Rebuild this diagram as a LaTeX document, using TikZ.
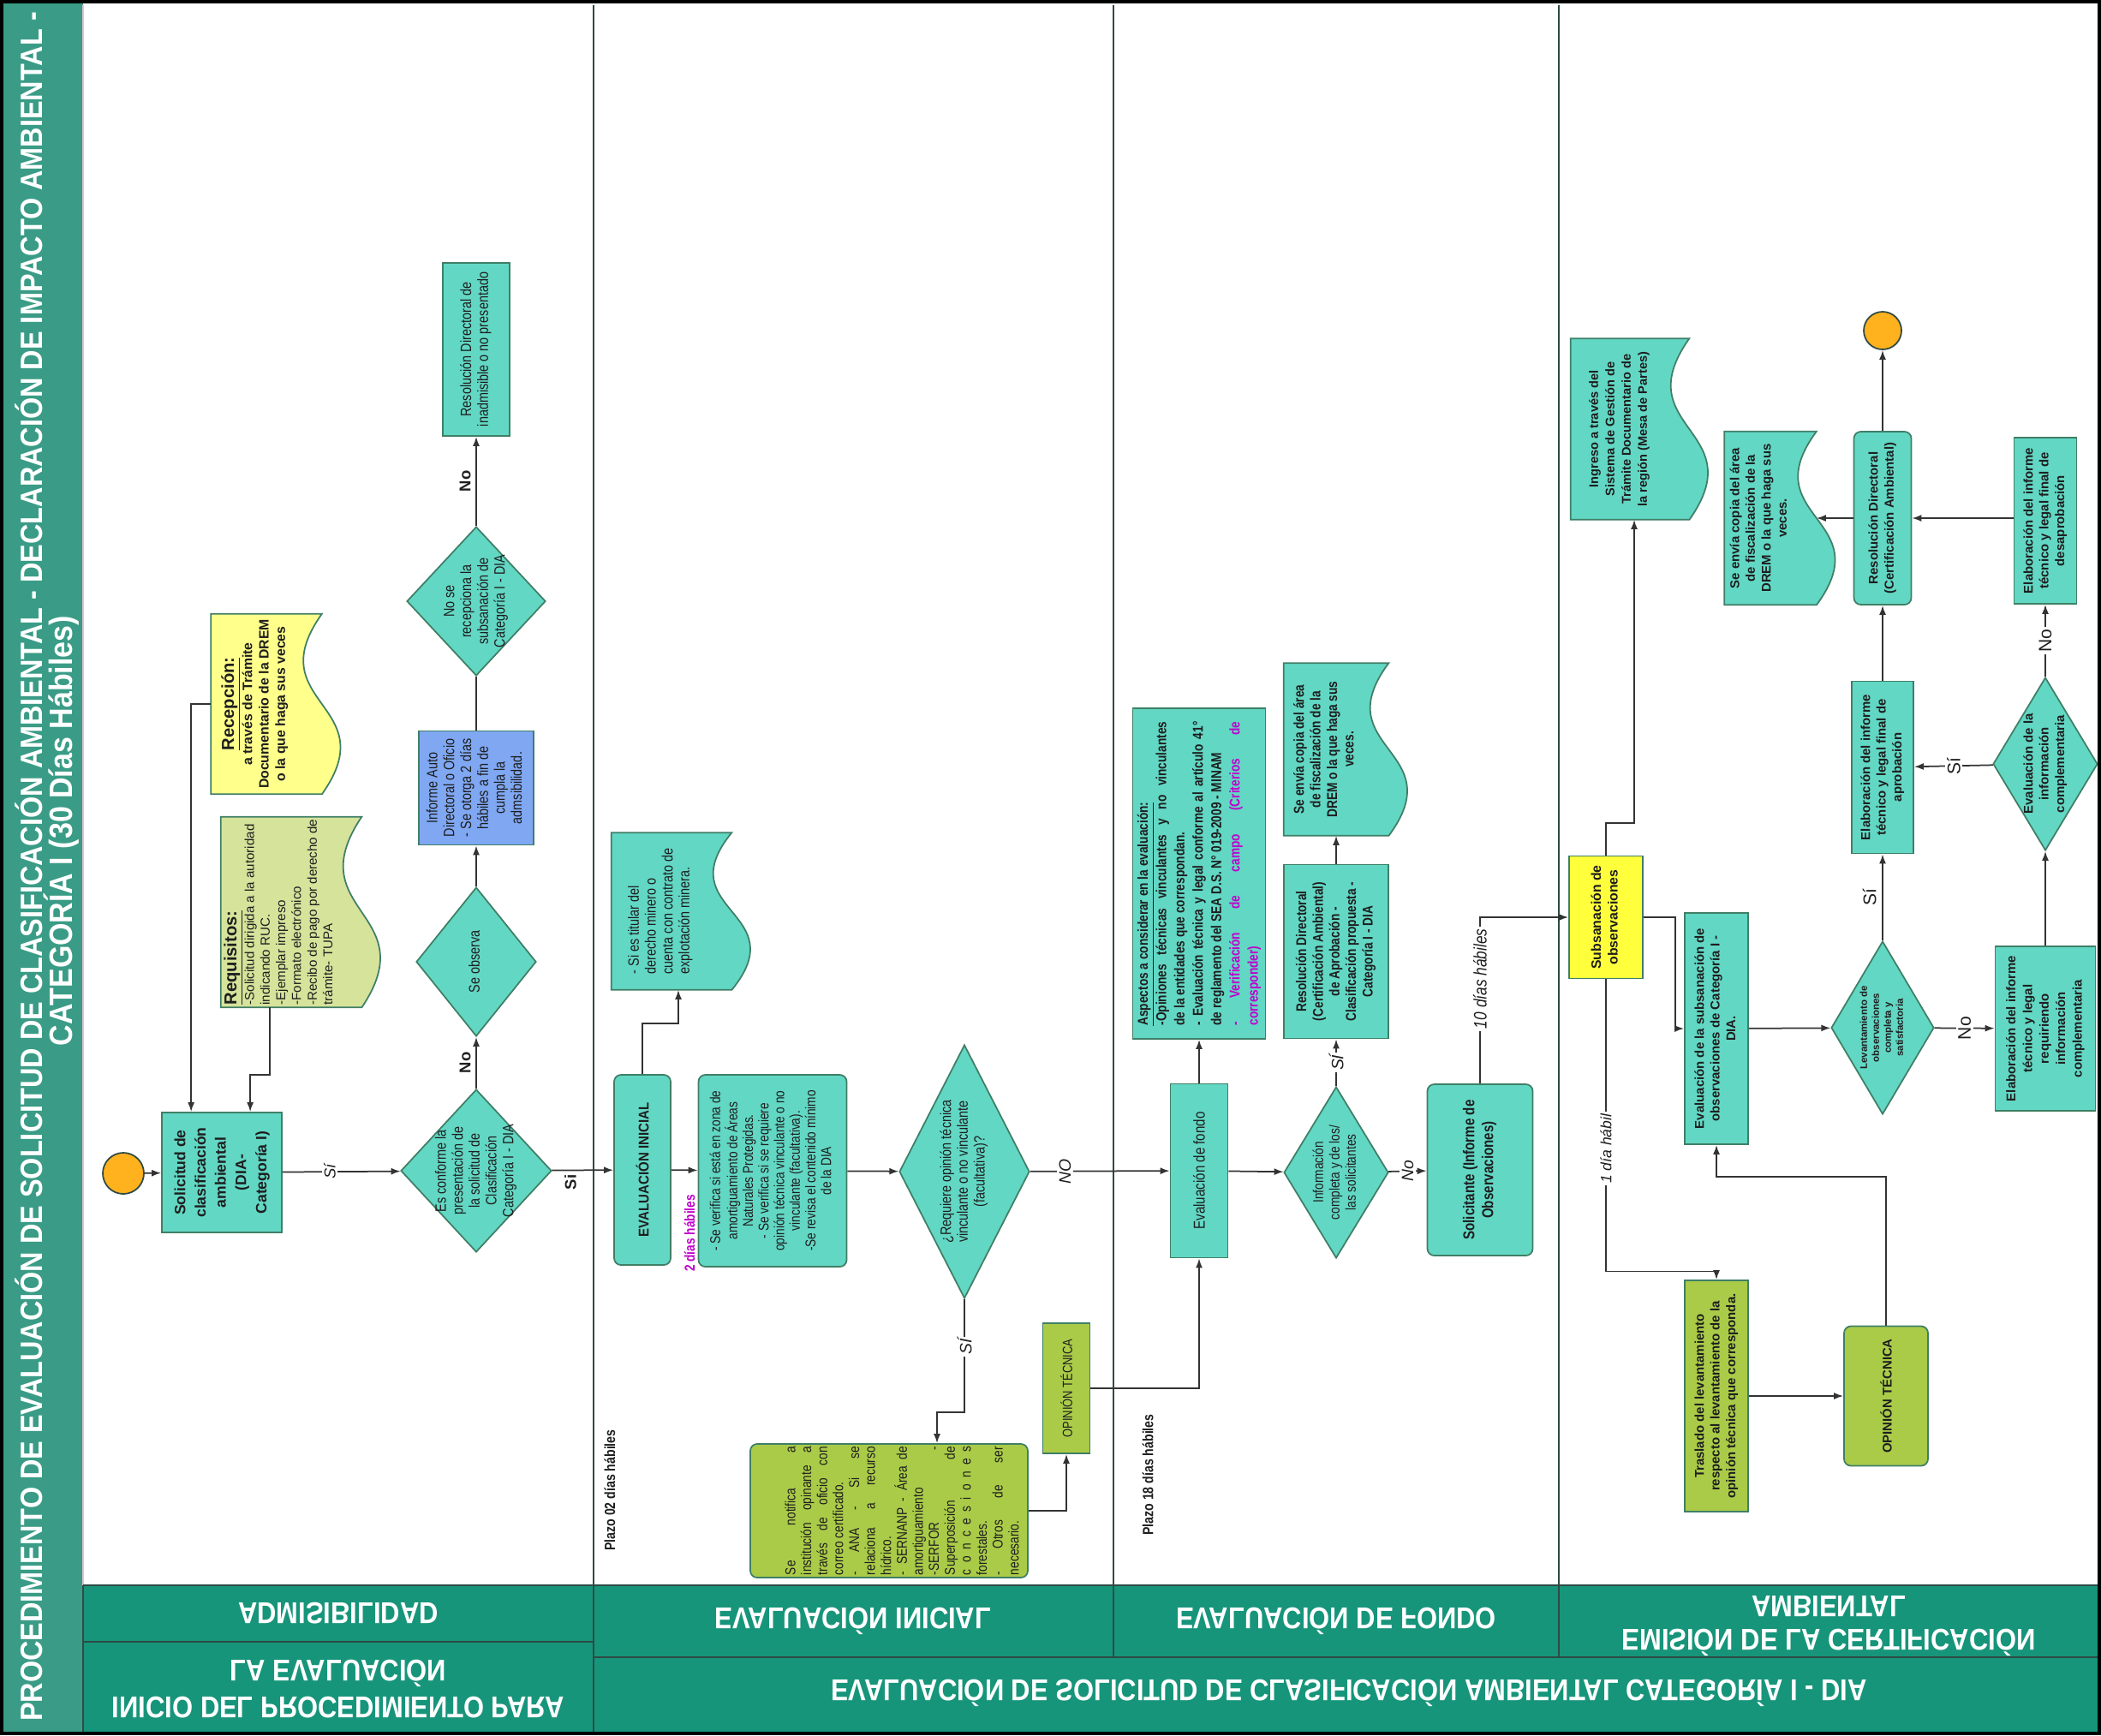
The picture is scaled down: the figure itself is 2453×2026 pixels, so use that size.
\documentclass[tikz,border=0pt]{standalone}
\usepackage{fontspec}
\usepackage{graphicx}
\setmainfont{Liberation Sans}
\newfontfamily\nar[FakeStretch=0.82]{Liberation Sans}
\newfontfamily\tnar[FakeStretch=0.9]{Liberation Sans}
\newfontfamily\hnar[FakeStretch=0.88]{Liberation Sans}
\usetikzlibrary{arrows.meta,shapes.geometric,calc}

\definecolor{teal1}{HTML}{62D7C4}
\definecolor{bord}{HTML}{3F7F66}
\definecolor{ygreen}{HTML}{AACB48}
\definecolor{reqgreen}{HTML}{D5E39B}
\definecolor{recyellow}{HTML}{FFFF8C}
\definecolor{subyellow}{HTML}{FFFF3C}
\definecolor{bluebox}{HTML}{7FA7F2}
\definecolor{orangec}{HTML}{FFB21E}
\definecolor{hdr}{HTML}{17957B}
\definecolor{ttl}{HTML}{3A9C86}
\definecolor{lnk}{HTML}{333333}
\definecolor{txt}{HTML}{1E1E1E}
\definecolor{mag}{HTML}{C000CC}
\definecolor{hline}{HTML}{2E4A44}

\newcommand\fs[2]{\fontsize{#1}{#2}\selectfont}
\newcommand\rot[1]{\rotatebox{90}{#1}}
\newcommand\rtc[2]{\rotatebox{90}{#1\begin{tabular}{@{}c@{}}#2\end{tabular}}}
\newcommand\rtl[2]{\rotatebox{90}{#1\begin{tabular}{@{}l@{}}#2\end{tabular}}}
\newcommand\jl[1]{\makebox[\linewidth][s]{#1}\par}
\newcommand\flip[1]{\scalebox{1}[-1]{#1}}
% regular narrow text used in the first lanes
\newcommand\ft{\nar\fs{10}{11.2}}

% document symbol with a wavy right side: name, centre, width, height, fill, text
\newcommand\docnode[6]{%
  \node[inner sep=0, sz={#3}{#4}] (#1) at (#2) {};
  \filldraw[fill=#5, draw=bord, line width=0.35mm]
    (#1.north west) -- (#1.north east)
    .. controls ([xshift=-15mm]#1.east) and ([xshift=15mm]#1.east) ..
    (#1.south east) -- (#1.south west) -- cycle;
  \node[text=txt] at ([xshift=-2.5mm]#1.center) {#6};}

\begin{document}
\begin{tikzpicture}[x=0.2mm,y=-0.2mm,
  sz/.style 2 args={minimum width=#1*0.2mm, minimum height=#2*0.2mm},
  box/.style={draw=bord, line width=0.35mm, fill=teal1, inner sep=0, text=txt},
  rbox/.style={box, rounded corners=1.6mm},
  dia/.style={diamond, draw=bord, line width=0.35mm, fill=teal1, inner sep=0},
  arr/.style={draw=lnk, line width=0.35mm, -{Latex[length=2.2mm,width=1.6mm]}},
  ln/.style={draw=lnk, line width=0.35mm},
  lbl/.style={fill=white, inner sep=0.5mm, text=txt},
  plain/.style={inner sep=0.5mm, text=txt},
  dot/.style={circle, draw=hline, line width=0.35mm, fill=orangec, inner sep=0}]

\useasboundingbox (0,0) rectangle (2453,2026);
\fill[white] (0,0) rectangle (2453,2026);

% ---------- title strip ----------
\fill[ttl] (0,0) rectangle (97,2026);
\node[text=white] at (34,1012) {\rot{\tnar\bfseries\fs{20.5}{24}PROCEDIMIENTO DE EVALUACIÓN DE SOLICITUD DE CLASIFICACIÓN AMBIENTAL - DECLARACIÓN DE IMPACTO AMBIENTAL -}};
\node[text=white] at (72,970) {\rot{\tnar\bfseries\fs{21.5}{24}CATEGORÍA I (30 Días Hábiles)}};

% ---------- lanes ----------
\draw[draw=gray!60!magenta!40, line width=0.3mm] (97,6) -- (97,1851);
\foreach \xx in {693,1300,1820}
  \draw[hline, line width=0.3mm] (\xx,6) -- (\xx,1851);

% ---------- lane headers ----------
\fill[hdr] (97,1851) rectangle (2453,2026);
\draw[hline, line width=0.5mm] (97,1851) -- (2453,1851);
\draw[hline, line width=0.5mm] (97,1917) -- (693,1917);
\draw[hline, line width=0.5mm] (693,1935) -- (2453,1935);
\draw[hline, line width=0.5mm] (693,1851) -- (693,2026);
\draw[hline, line width=0.4mm] (1300,1851) -- (1300,1935);
\draw[hline, line width=0.4mm] (1820,1851) -- (1820,1935);
\draw[hline, line width=0.5mm] (97,1851) -- (97,2026);
\begin{scope}[every node/.style={text=white, font=\hnar\bfseries\fs{20}{22}}]
\node at (395,1884) {\flip{ADMISIBILIDAD}};
\node at (996,1893) {\flip{EVALUACIÓN INICIAL}};
\node at (1560,1893) {\flip{EVALUACIÓN DE FONDO}};
\node at (2135,1893) {\flip{\begin{tabular}{c}EMISIÓN DE LA CERTIFICACIÓN\\AMBIENTAL\end{tabular}}};
\node at (395,1968) {\flip{\begin{tabular}{c}INICIO DEL PROCEDIMIENTO PARA\\LA EVALUACIÓN\end{tabular}}};
\node at (1575,1977) {\flip{EVALUACIÓN DE SOLICITUD DE CLASIFICACIÓN AMBIENTAL CATEGORÍA I - DIA}};
\end{scope}

% ---------- lane 1: admisibilidad ----------
\node[dot, minimum size=48*0.2mm] (start) at (144,1370) {};
\node[box, sz={140}{140}] (solic) at (259,1369)
  {\rtc{\bfseries\fs{10}{13.5}}{Solicitud de\\clasificación\\ambiental\\(DIA-\\Categoría I)}};
\node[dia, sz={176}{190}] (conf) at (556,1367) {};
\node[text=txt] at (conf) {\rtc{\ft}{Es conforme la\\presentación de\\la solicitud de\\Clasificación\\Categoría I - DIA}};
\node[dia, sz={140}{174}] (obs) at (556,1123) {};
\node[text=txt] at (obs) {\rtc{\ft}{Se observa}};
\node[box, fill=bluebox, sz={134}{133}] (blue) at (556,920)
  {\rtc{\ft}{Informe Auto\\Directoral o Oficio\\- Se otorga 2 días\\hábiles a fin de\\cumpla la\\admsibilidad.}};
\node[dia, sz={162}{174}] (norec) at (556,702) {};
\node[text=txt] at (norec) {\rtc{\ft}{No se\\recepciona la\\subsanación de\\Categoría I - DIA}};
\node[box, sz={78}{202}] (resinad) at (556,408)
  {\rtc{\ft}{Resolución Directoral de\\inadmisible o no presentado}};
\docnode{recep}{311,822}{129}{210}{recyellow}
  {\rtc{\bfseries\fs{9}{11}}{{\fs{11.5}{14}\underline{Recepción:}}\\a través de Trámite\\Documentario de la DREM\\o la que haga sus veces}}
\docnode{req}{340,1065}{164}{222}{reqgreen}
  {\rtl{\fs{8.6}{10.4}}{{\bfseries\fs{11.5}{14}\underline{Requisitos:}}\\-Solicitud dirigida a la autoridad\\indicando RUC.\\-Ejemplar impreso\\-Formato electrónico\\-Recibo de pago por derecho de\\trámite- TUPA}}

\draw[arr] (start) -- (solic);
\draw[arr] (solic) -- node[lbl, pos=0.4] {\rot{\itshape\fs{10.5}{12}Sí}} (conf);
\draw[arr] (conf) -- node[plain, left=0.6mm] {\rot{\bfseries\fs{10.5}{12}No}} (obs);
\draw[arr] (obs) -- (blue);
\draw[ln] (blue) -- (norec);
\draw[arr] (norec) -- node[plain, left=0.6mm] {\rot{\bfseries\fs{10.5}{12}No}} (resinad);
\draw[arr] (recep.west) -| ([xshift=7mm]solic.north west);
\draw[arr] ([xshift=-5mm]req.south) -- ++(0,79) -| ([xshift=20.8mm]solic.north west);

% ---------- lane 2: evaluacion inicial ----------
\node[rbox, sz={66}{222}] (evi) at (750,1366)
  {\rot{\tnar\bfseries\fs{9.5}{11}EVALUACIÓN INICIAL}};
\docnode{titular}{784,1064}{140}{183}{teal1}
  {\rtl{\ft}{- Si es titular del\\derecho minero o\\cuenta con contrato de\\explotación minera.}}
\node[rbox, sz={173}{224}] (box2) at (902,1367)
  {\rtc{\nar\fs{9.5}{10.4}}{- Se verifica si está en zona de\\amortiguamiento de Áreas\\Naturales Protegidas.\\- Se verifica si se requiere\\opinión técnica vinculante o no\\vinculante (facultativa).\\-Se revisa el contenido mínimo\\de la DIA}};
\node[dia, sz={152}{296}] (reqd) at (1126,1368) {};
\node[text=txt] at (reqd) {\rtc{\ft}{¿Requiere opinión técnica\\vinculante o no vinculante\\(facultativa)?}};
\node[rbox, fill=ygreen, sz={324}{156}] (notif) at (1038,1764) {};
\node[text=txt] at ([xshift=3mm]notif.center) {\rot{\begin{minipage}{30mm}\nar\fs{9.5}{10.6}%
\jl{Se notifica a}\jl{institución opinante a}\jl{través de oficio con}correo certificado.\par
\jl{- ANA - Si se}\jl{relaciona a recurso}hídrico.\par\jl{- SERNANP - Área de}amortiguamiento\par
\jl{-SERFOR -}\jl{Superposición de}\jl{c o n c e s i o n e s}forestales.\par
\jl{- Otros de ser}necesario.\par\end{minipage}}};
\node[box, fill=ygreen, sz={55}{152}] (op1) at (1245,1621)
  {\rot{\nar\fs{9}{10}OPINIÓN TÉCNICA}};
\node[text=mag] at (805,1440) {\rot{\nar\bfseries\fs{9.5}{11}2 días hábiles}};
\node[text=txt] at (712,1740) {\rot{\nar\bfseries\fs{9.8}{11}Plazo 02 días hábiles}};

\draw[arr] (conf) -- node[plain, pos=0.3, below=0.4mm] {\rot{\bfseries\fs{10.5}{12}Si}} (evi);
\draw[arr] (evi.north) -- ++(0,-59) -| ([xshift=1.6mm]titular.south);
\draw[arr] (evi) -- (box2);
\draw[arr] (box2) -- (reqd);
\draw[arr] (reqd.south) -- node[lbl, pos=0.42] {\rot{\itshape\fs{11}{12}SÍ}} ++(0,132) -| ([xshift=11.2mm]notif.north);
\draw[arr] (notif.east) -| (op1.south);

% ---------- lane 3: evaluacion de fondo ----------
\node[box, sz={67}{203}] (fondo) at (1400,1367)
  {\rot{\nar\fs{10.5}{12}Evaluación de fondo}};
\node[box, sz={155}{386}] (asp) at (1400,1020)
  {\rot{\begin{minipage}{71mm}\nar\bfseries\fs{9.5}{12.2}%
\underline{Aspectos a considerar en la evaluación:}\par
\jl{-Opiniones técnicas vinculantes y no vinculantes}de la entidades que correspondan.\par
\jl{- Evaluación técnica y legal conforme al artículo 41°}de reglamento del SEA D.S. N° 019-2009 - MINAM\par
{\color{mag}\jl{- Verificación de campo (Criterios de}corresponder)\par}\end{minipage}}};
\node[dia, sz={122}{200}] (infd) at (1560,1369) {};
\node[text=txt] at (infd) {\rtc{\nar\fs{9.5}{10.8}}{Información\\completa y de los/\\las solicitantes}};
\node[box, sz={122}{203}] (res2) at (1560,1111)
  {\rtc{\nar\bfseries\fs{9.5}{11}}{Resolución Directoral\\(Certificación Ambiental)\\de Aprobación -\\Clasificación propuesta -\\Categoría I - DIA}};
\docnode{copy1}{1560,875}{122}{201}{teal1}
  {\rtc{\nar\bfseries\fs{9.5}{11}}{Se envía copia del área\\de fiscalización de la\\DREM o la que haga sus\\veces.}}
\node[rbox, sz={123}{200}] (solic2) at (1728,1366)
  {\rtc{\nar\bfseries\fs{10.5}{12.5}}{Solicitante (Informe de\\Observaciones)}};
\node[text=txt] at (1340,1722) {\rot{\nar\bfseries\fs{9.8}{11}Plazo 18 días hábiles}};

\draw[arr] (reqd) -- node[lbl, pos=0.25] {\rot{\itshape\fs{11}{12}NO}} (fondo);
\draw[arr] (op1.east) -| (fondo.south);
\draw[arr] (fondo) -- (asp);
\draw[arr] (fondo) -- (infd);
\draw[arr] (infd) -- node[lbl] {\rot{\itshape\fs{11}{12}SÍ}} (res2);
\draw[arr] (res2) -- (copy1);
\draw[arr] (infd) -- node[lbl] {\rot{\itshape\fs{11}{12}No}} (solic2);

% ---------- lane 4: emision de la certificacion ----------
\docnode{ingreso}{1903,501}{138}{211}{teal1}
  {\rtc{\bfseries\fs{8.3}{10.8}}{Ingreso a través del\\Sistema de Gestión de\\Trámite Documentario de\\la región (Mesa de Partes)}}
\node[box, fill=subyellow, sz={86}{143}] (subs) at (1875,1071)
  {\rtc{\bfseries\fs{9}{11}}{Subsanación de\\observaciones}};
\node[box, sz={74}{270}] (evsub) at (2004,1201)
  {\rtc{\bfseries\fs{8.5}{10.5}}{Evaluación de la subsanación de\\observaciones de Categoría I -\\DIA.}};
\node[dia, sz={120}{202}] (levd) at (2198,1200) {};
\node[text=txt] at (levd) {\rtc{\bfseries\fs{6.5}{8}}{Levantamiento de\\observaciones\\completa y\\satisfactoria}};
\node[box, sz={117}{192}] (reqinfo) at (2388,1201)
  {\rtc{\bfseries\fs{8.5}{11}}{Elaboración del informe\\técnico y legal\\requiriendo\\información\\complementaria}};
\node[dia, sz={122}{202}] (evcomp) at (2388,892) {};
\node[text=txt] at (evcomp) {\rtc{\bfseries\fs{8.5}{10.5}}{Evaluación de la\\información\\complementaria}};
\node[box, sz={72}{201}] (aprob) at (2198,896)
  {\rtc{\bfseries\fs{8.5}{10.5}}{Elaboración del informe\\técnico y legal final de\\aprobación}};
\node[rbox, sz={67}{202}] (res3) at (2198,605)
  {\rtc{\bfseries\fs{8.5}{10.5}}{Resolución Directoral\\(Certificación Ambiental)}};
\node[box, sz={73}{194}] (desap) at (2388,608)
  {\rtc{\bfseries\fs{8.5}{10.5}}{Elaboración del informe\\técnico y legal final de\\desaprobación}};
\docnode{copy2}{2067,605}{107}{202}{teal1}
  {\rtc{\bfseries\fs{8.5}{10.5}}{Se envía copia del área\\de fiscalización de la\\DREM o la que haga sus\\veces.}}
\node[dot, minimum size=44*0.2mm] (endc) at (2198,386) {};
\node[box, fill=ygreen, sz={74}{270}] (tras) at (2004,1630)
  {\rtc{\bfseries\fs{8.5}{10.5}}{Traslado del levantamiento\\respecto al levantamiento de la\\opinión técnica que corresponda.}};
\node[rbox, fill=ygreen, sz={98}{163}] (op2) at (2202,1630)
  {\rot{\bfseries\fs{8.5}{10}OPINIÓN TÉCNICA}};

\draw[arr] (solic2.north) |- node[lbl, pos=0.315] {\rot{\nar\itshape\fs{12}{14}10 días hábiles}} (subs.west);
\draw[arr] (subs.north) -- ++(0,-38) -| ([xshift=1mm]ingreso.south);
\draw[arr] (subs.east) -- ++(37,0) |- (evsub.west);
\draw[arr] (evsub) -- (levd);
\draw[arr] (levd) -- node[lbl] {\rot{\fs{12}{14}No}} (reqinfo);
\draw[arr] (reqinfo) -- (evcomp);
\draw[arr] (evcomp) -- node[lbl] {\rot{\fs{12}{14}Sí}} (aprob);
\draw[arr] (levd) -- node[plain, left=0.8mm] {\rot{\fs{12}{14}Sí}} (aprob);
\draw[arr] (aprob) -- (res3);
\draw[arr] (evcomp) -- node[lbl] {\rot{\fs{12}{14}No}} (desap);
\draw[arr] (desap.west |- res3) -- (res3.east);
\draw[arr] (res3) -- (copy2);
\draw[arr] (res3) -- (endc);
\draw[arr] (subs.south) -- node[lbl, pos=0.58] {\rot{\itshape\fs{10}{12}1 día hábil}} ++(0,341) -| (tras.north);
\draw[arr] (tras) -- (op2);
\draw[arr] (op2.north) -- ++(0,-174) -| (evsub.south);

% ---------- outer frame ----------
\draw[black, line width=0.8mm] (2,2) rectangle (2451,2024);
\end{tikzpicture}
\end{document}
